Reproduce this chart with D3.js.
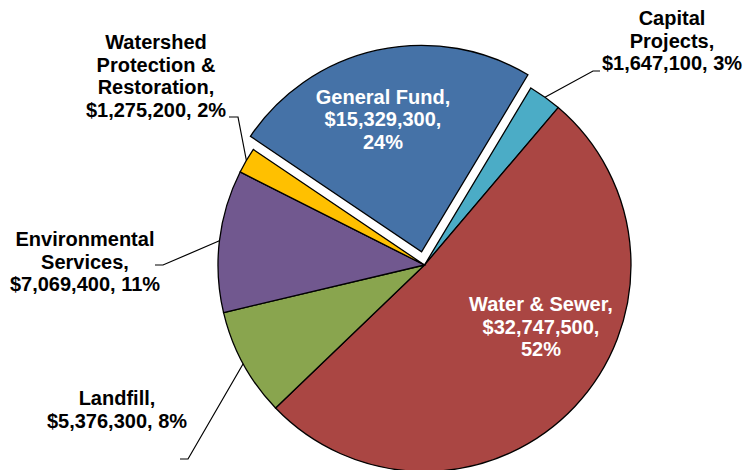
<!DOCTYPE html>
<html>
<head>
<meta charset="utf-8">
<script src="https://cdn.jsdelivr.net/npm/d3@7"></script>
<style>
html,body{margin:0;padding:0;background:#fff;}
svg{display:block;}
text{font-family:"Liberation Sans",Arial,Helvetica,sans-serif;font-weight:bold;font-size:20px;}
</style>
</head>
<body>
<svg id="chart" width="746" height="470"></svg>
<script>
// Data
const categories = ["Capital Projects", "Water & Sewer", "Landfill", "Environmental Services", "Watershed Protection & Restoration", "General Fund"];
const values = [1647100, 32747500, 5376300, 7069400, 1275200, 15329300];
const colors = ["#4BACC6", "#AA4643", "#89A54E", "#71588F", "#FFC000", "#4572A7"];
const exploded = [false, false, false, false, false, true];
// label lines (text) per slice
const labelLines = [
  ["Capital", "Projects,", "$1,647,100, 3%"],
  ["Water & Sewer,", "$32,747,500,", "52%"],
  ["Landfill,", "$5,376,300, 8%"],
  ["Environmental", "Services,", "$7,069,400, 11%"],
  ["Watershed", "Protection &", "Restoration,", "$1,275,200, 2%"],
  ["General Fund,", "$15,329,300,", "24%"]
];

// Layout
const cx = 424.5, cy = 265, R = 206.5, explode = 13.5;
const startDeg = 31;
const lineH = 22.5;
const labelPos = [ // [center x, first baseline y, inside?]
  {x: 672, y: 25, inside: false, leader: [[600, 71], [593, 71]]},
  {x: 541, y: 311, inside: true},
  {x: 117, y: 405, inside: false, leader: [[180, 459], [188, 459]]},
  {x: 85, y: 246, inside: false, leader: [[155, 265], [163, 265]]},
  {x: 156, y: 49, inside: false, leader: [[229, 117], [238, 117]]},
  {x: 383, y: 103.5, inside: true}
];

const svg = d3.select("#chart");
const pie = d3.pie().sort(null).value(d => d)
  .startAngle(startDeg * Math.PI / 180)
  .endAngle((startDeg + 360) * Math.PI / 180);
const arcs = pie(values);
const arc = d3.arc().innerRadius(0).outerRadius(R);

const g = svg.append("g").attr("transform", `translate(${cx},${cy})`);
g.selectAll("path.slice").data(arcs).enter().append("path")
  .attr("class", "slice")
  .attr("d", arc)
  .attr("fill", (d, i) => colors[i])
  .attr("stroke", "#000")
  .attr("stroke-width", 1.3)
  .attr("stroke-linejoin", "miter")
  .attr("transform", (d, i) => {
    if (!exploded[i]) return null;
    const m = (d.startAngle + d.endAngle) / 2;
    return `translate(${explode * Math.sin(m)},${-explode * Math.cos(m)})`;
  });

// leaders
arcs.forEach((d, i) => {
  const lp = labelPos[i];
  if (lp.inside) return;
  const m = (d.startAngle + d.endAngle) / 2;
  const px = cx + R * Math.sin(m), py = cy - R * Math.cos(m);
  const pts = lp.leader.concat([[px, py]]);
  svg.append("path")
    .attr("d", d3.line()(pts))
    .attr("fill", "none")
    .attr("stroke", "#000")
    .attr("stroke-width", 1.2);
});

// labels
arcs.forEach((d, i) => {
  const lp = labelPos[i];
  const t = svg.append("text")
    .attr("text-anchor", "middle")
    .attr("fill", lp.inside ? "#fff" : "#000");
  labelLines[i].forEach((ln, k) => {
    t.append("tspan").attr("x", lp.x).attr("y", lp.y + k * lineH).text(ln);
  });
});
</script>
</body>
</html>
